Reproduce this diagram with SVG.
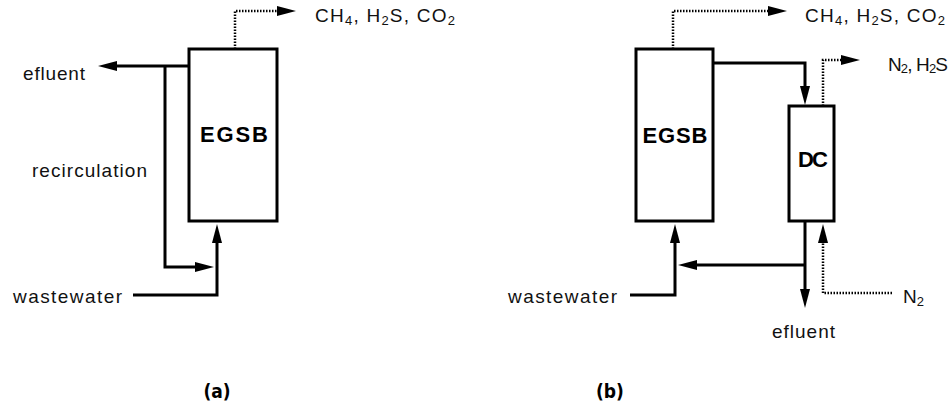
<svg xmlns="http://www.w3.org/2000/svg" width="950" height="406" viewBox="0 0 950 406">
<defs>
<style>
.box{fill:#fff;stroke:#000;stroke-width:3}
.flow{fill:none;stroke:#000;stroke-width:3;marker-end:url(#ah)}
.gas{fill:none;stroke:#000;stroke-width:2.5;stroke-dasharray:1.5 1.5;marker-end:url(#ah)}
.lbl{font-family:"Liberation Sans",Arial,sans-serif;font-size:19px;fill:#111}
.title{font-family:"Liberation Sans",Arial,sans-serif;font-size:22px;font-weight:bold;text-anchor:middle;fill:#000}
.cap{font-family:"Liberation Sans Narrow","DejaVu Sans Condensed","Liberation Sans",sans-serif;font-size:19px;font-weight:bold;text-anchor:middle;fill:#000}
.sub{font-size:13px}
</style>
<marker id="ah" viewBox="0 0 19 10" refX="0" refY="5" markerWidth="19" markerHeight="10" markerUnits="userSpaceOnUse" orient="auto"><path d="M0,0 L19,5 L0,10 z" fill="#000"/></marker>
</defs>

<g id="connectors">
<!-- panel a -->
<path class="gas" d="M235,49 V11 H277"/>
<path class="flow" d="M189,66 H117"/>
<path class="flow" d="M165,66 V267 H195"/>
<path class="flow" d="M133,295 H217 V243"/>
<!-- panel b -->
<path class="gas" d="M673,49 V11 H768"/>
<path class="flow" d="M713,63 H805 V86"/>
<path class="gas" d="M823,106 V60 H841"/>
<path class="flow" d="M805,221 V289"/>
<path class="flow" d="M805,265 H697"/>
<path class="flow" d="M630,295 H675 V243"/>
<path class="gas" d="M892,293 H823 V243"/>
</g>

<g id="egsb-a">
<rect class="box" x="189" y="49" width="88" height="172"/>
<text class="title" x="234" y="142" textLength="68">EGSB</text>
</g>

<g id="egsb-b">
<rect class="box" x="636" y="49" width="77" height="172"/>
<text class="title" x="675" y="143" textLength="65">EGSB</text>
</g>

<g id="dc">
<rect class="box" x="789" y="106" width="45" height="115"/>
<text class="title" x="813" y="167" textLength="30">DC</text>
</g>

<g id="labels-a">
<text class="lbl" x="315" y="22" textLength="140">CH<tspan class="sub" dy="3">4</tspan><tspan dy="-3">, H</tspan><tspan class="sub" dy="3">2</tspan><tspan dy="-3">S, CO</tspan><tspan class="sub" dy="3">2</tspan></text>
<text class="lbl" x="23" y="80" textLength="62">efluent</text>
<text class="lbl" x="32" y="177" textLength="115">recirculation</text>
<text class="lbl" x="13" y="303" textLength="109">wastewater</text>
<text class="cap" x="217" y="398">(a)</text>
</g>

<g id="labels-b">
<text class="lbl" x="805" y="22" textLength="140">CH<tspan class="sub" dy="3">4</tspan><tspan dy="-3">, H</tspan><tspan class="sub" dy="3">2</tspan><tspan dy="-3">S, CO</tspan><tspan class="sub" dy="3">2</tspan></text>
<text class="lbl" x="888" y="71" textLength="60">N<tspan class="sub" dy="2">2</tspan><tspan dy="-2">, H</tspan><tspan class="sub" dy="2">2</tspan><tspan dy="-2">S</tspan></text>
<text class="lbl" x="903" y="303" textLength="21">N<tspan class="sub" dy="3">2</tspan></text>
<text class="lbl" x="772" y="338" textLength="63">efluent</text>
<text class="lbl" x="508" y="303" textLength="109">wastewater</text>
<text class="cap" x="610" y="398">(b)</text>
</g>
</svg>
